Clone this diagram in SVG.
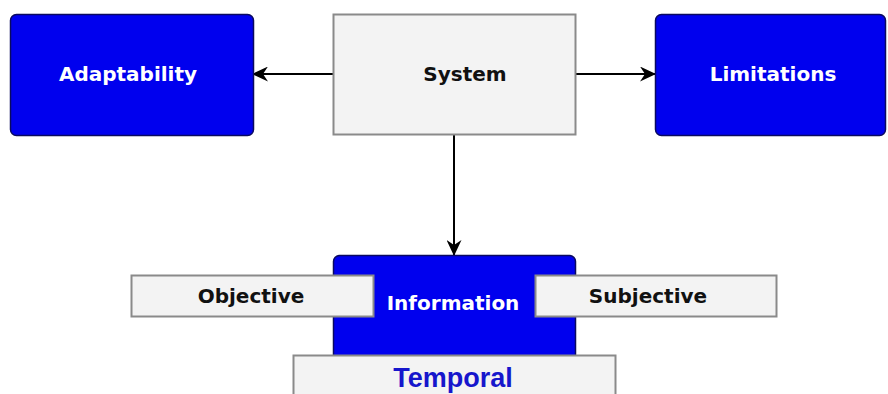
<svg xmlns="http://www.w3.org/2000/svg" width="888" height="394" viewBox="0 0 888 394">
  <defs>
    <marker id="arrow" viewBox="0 0 16 15" refX="15" refY="7.5" markerWidth="16" markerHeight="15" markerUnits="userSpaceOnUse" orient="auto">
      <path d="M0,0 L16,7.5 L0,15 L5,7.5 Z" fill="#000"/>
    </marker>
  </defs>
  <style>
    .blue { fill: #0000ee; stroke: #0a0a60; stroke-width: 1.5; }
    .grey { fill: #f3f3f3; stroke: #8a8a8a; stroke-width: 2; }
    .lbl { font-family: "DejaVu Sans", Verdana, sans-serif; font-weight: bold; font-size: 20px; text-anchor: middle; }
    .w { fill: #ffffff; }
    .k { fill: #111111; }
    .link { stroke: #000; stroke-width: 2; fill: none; }
  </style>
  <rect width="888" height="394" fill="#ffffff"/>

  <g id="connectors">
    <line class="link" x1="333" y1="74" x2="253" y2="74" marker-end="url(#arrow)"/>
    <line class="link" x1="576" y1="74" x2="655" y2="74" marker-end="url(#arrow)"/>
    <line class="link" x1="454" y1="135" x2="454" y2="255" marker-end="url(#arrow)"/>
  </g>

  <g id="adaptability">
    <rect class="blue" x="10.5" y="14.5" width="243" height="121" rx="6"/>
    <text class="lbl w" x="128" y="81">Adaptability</text>
  </g>

  <g id="system">
    <rect class="grey" x="333.5" y="14.5" width="242" height="120"/>
    <text class="lbl k" x="465" y="81">System</text>
  </g>

  <g id="limitations">
    <rect class="blue" x="655.5" y="14.5" width="230" height="121" rx="6"/>
    <text class="lbl w" x="773" y="81">Limitations</text>
  </g>

  <g id="information">
    <rect class="blue" x="333.5" y="255.5" width="242" height="130" rx="6"/>
    <text class="lbl w" x="453" y="310">Information</text>
  </g>

  <g id="objective">
    <rect class="grey" x="131.5" y="275.5" width="242" height="41"/>
    <text class="lbl k" x="251" y="303">Objective</text>
  </g>

  <g id="subjective">
    <rect class="grey" x="535.5" y="275.5" width="241" height="41"/>
    <text class="lbl k" x="648" y="303">Subjective</text>
  </g>

  <g id="temporal">
    <rect class="grey" x="293.5" y="355.5" width="322" height="45"/>
    <text x="453" y="387" font-family="'Liberation Sans', Arial, sans-serif" font-weight="bold" font-size="27" text-anchor="middle" fill="#1616cc">Temporal</text>
  </g>
</svg>
